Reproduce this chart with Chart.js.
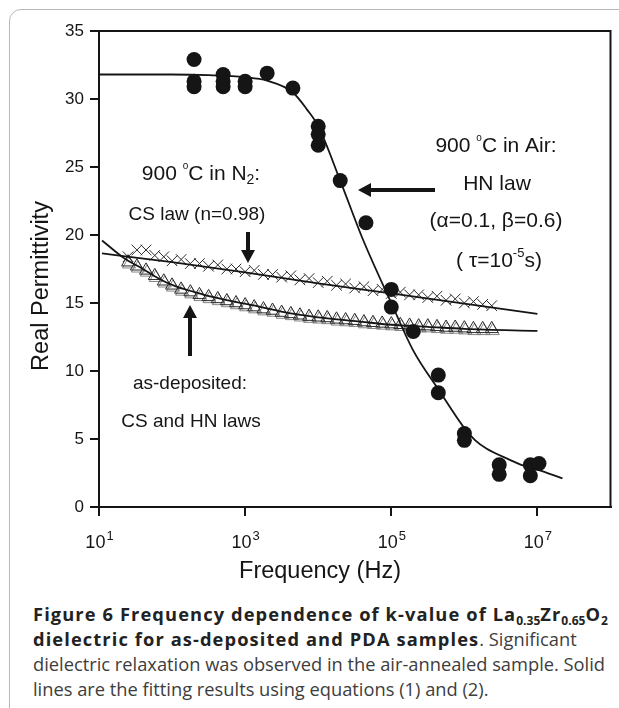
<!DOCTYPE html>
<html><head><meta charset="utf-8">
<script src="https://cdn.jsdelivr.net/npm/chart.js@4.4.1/dist/chart.umd.min.js"></script>
<style>
html,body{margin:0;padding:0;background:#fff;width:619px;height:708px;overflow:hidden;}
#card{position:absolute;left:9px;top:9px;width:700px;height:720px;border:1px solid #b8b8b8;border-radius:12px;}
#wrap{position:absolute;left:0;top:0;width:619px;height:600px;}
#cap{position:absolute;left:33px;top:601px;width:620px;font-family:'Open Sans';font-size:18.3px;line-height:25px;color:#3d3d3d;white-space:nowrap;}
#cap b{color:#222;font-weight:700;letter-spacing:1.1px;}
#cap sub{font-size:12px;vertical-align:baseline;position:relative;top:4px;line-height:0;letter-spacing:0;}
</style></head><body>
<div id="card"></div>
<div id="wrap"><canvas id="c" width="619" height="600"></canvas></div>
<div id="cap"><b>Figure 6 Frequency dependence of k-value of La<sub>0.35</sub>Zr<sub>0.65</sub>O<sub>2</sub><br>dielectric for as-deposited and PDA samples</b>. Significant<br>dielectric relaxation was observed in the air-annealed sample. Solid<br>lines are the fitting results using equations (1) and (2).</div>
<script>
// ---- data (frequency in Hz, real permittivity) ----
const xTickValues = [10, 1e3, 1e5, 1e7];
const xTickExponents = ['1', '3', '5', '7'];
const yTickStep = 5;

// 900 °C in Air (filled circles)
const airFreq = [200,200,200,500,500,500,1000,1000,2000,4500,1e4,1e4,1e4,2e4,4.5e4,1e5,1e5,2e5,4.4e5,4.4e5,1e6,1e6,3e6,3e6,8e6,8e6,1.05e7];
const airEps  = [32.9,31.3,30.9,31.8,31.3,30.9,31.3,30.9,31.9,30.8,28.0,27.4,26.6,24.0,20.9,16.0,14.7,12.9,9.7,8.4,5.4,4.9,3.1,2.4,3.1,2.3,3.2];

// HN law fit (air)
const hnFreq = [10,100,316,1000,2000,4470,7080,1e4,2e4,4e4,1e5,2e5,4.47e5,1e6,1.41e6,2e6,4.27e6,6e6,1e7,2.2e7];
const hnEps  = [31.8,31.8,31.75,31.6,31.35,30.5,29.2,28.0,24.0,19.8,15.0,11.5,8.6,5.8,4.9,4.3,3.45,3.1,2.75,2.1];

// frequency sweep shared by N2 and as-deposited samples
const sweepFreq = [25,33,44,58,77,100,133,178,237,316,422,562,750,1000,1330,1780,2370,3160,4220,5620,7500,1e4,1.33e4,1.78e4,2.37e4,3.16e4,4.22e4,5.62e4,7.5e4,1e5,1.33e5,1.78e5,2.37e5,3.16e5,4.22e5,5.62e5,7.5e5,1e6,1.33e6,1.78e6,2.37e6];
// 900 °C in N2 (crosses)
const n2Eps = [18.4,18.9,18.9,18.5,18.4,18.1,18.2,17.9,17.9,17.7,17.8,17.5,17.5,17.3,17.4,17.1,17.1,16.9,17.0,16.7,16.8,16.5,16.6,16.3,16.4,16.1,16.2,15.9,16.0,15.7,15.8,15.6,15.6,15.4,15.5,15.2,15.3,15.0,15.1,14.9,14.8];
// as-deposited (triangles)
const asdEps = [18.0,17.7,17.4,17.0,16.6,16.3,16.0,15.8,15.6,15.45,15.3,15.15,15.0,14.85,14.7,14.55,14.45,14.3,14.2,14.1,14.0,13.95,13.9,13.8,13.75,13.7,13.6,13.55,13.5,13.45,13.4,13.35,13.3,13.3,13.25,13.2,13.2,13.15,13.1,13.1,13.1];

// CS law fit (N2)
const csFreq = [11,100,1000,1e4,1e5,1e6,1e7];
const csEps  = [18.65,18.0,17.25,16.45,15.7,14.95,14.2];
// CS + HN fit (as-deposited)
const asFitFreq = [11,22,40,68,115,190,355,794,1510,3980,1e4,3.47e4,1e5,3.16e5,1e6,1e7];
const asFitEps  = [19.6,18.3,17.5,16.75,16.2,15.85,15.45,15.05,14.75,14.25,13.95,13.65,13.4,13.25,13.1,12.95];

const pts = (xs, ys) => xs.map((x, i) => ({x, y: ys[i]}));
const FONT = '"Liberation Sans", Arial, sans-serif';
const INK = '#151515';

const lineDs = (xs, ys) => ({data: pts(xs, ys), showLine: true, pointRadius: 0, borderColor: INK, borderWidth: 1.8, cubicInterpolationMode: 'monotone', fill: false});

function drawRuns(ctx, parts, cx, baseline) {
  let total = 0;
  const m = parts.map(p => { ctx.font = `${p[1]}px ${FONT}`; const w = ctx.measureText(p[0]).width; total += w; return w; });
  let x = cx - total / 2;
  ctx.textAlign = 'left'; ctx.textBaseline = 'alphabetic';
  parts.forEach((p, i) => { ctx.font = `${p[1]}px ${FONT}`; ctx.fillText(p[0], x, baseline + (p[2] || 0)); x += m[i]; });
}
function arrow(ctx, x1, y1, x2, y2) { // tail -> tip
  const ang = Math.atan2(y2 - y1, x2 - x1), hl = 13, hw = 7;
  const bx = x2 - hl * Math.cos(ang), by = y2 - hl * Math.sin(ang);
  ctx.strokeStyle = INK; ctx.lineWidth = 4; ctx.beginPath(); ctx.moveTo(x1, y1); ctx.lineTo(bx, by); ctx.stroke();
  ctx.fillStyle = INK; ctx.beginPath(); ctx.moveTo(x2, y2);
  ctx.lineTo(bx + hw * Math.sin(ang), by - hw * Math.cos(ang));
  ctx.lineTo(bx - hw * Math.sin(ang), by + hw * Math.cos(ang));
  ctx.closePath(); ctx.fill();
}

const TRI_INDEX = 5;
const shadow = {
  id: 'shadow',
  beforeDatasetDraw(chart, args) {
    if (args.index === TRI_INDEX) {
      const c = chart.ctx; c.save();
      c.shadowColor = 'rgba(120,120,120,0.9)'; c.shadowOffsetX = 1; c.shadowOffsetY = 2; c.shadowBlur = 0;
    }
  },
  afterDatasetDraw(chart, args) { if (args.index === TRI_INDEX) chart.ctx.restore(); }
};

const decor = {
  id: 'decor',
  afterDraw(chart) {
    const ctx = chart.ctx, a = chart.chartArea, xs = chart.scales.x;
    ctx.save();
    ctx.strokeStyle = INK; ctx.lineWidth = 2;
    ctx.beginPath(); ctx.moveTo(a.left, a.top); ctx.lineTo(a.right, a.top); ctx.lineTo(a.right, a.bottom); ctx.stroke();
    ctx.fillStyle = INK;
    xTickValues.forEach((v, i) => {
      const px = xs.getPixelForValue(v);
      ctx.font = `18px ${FONT}`; const w1 = ctx.measureText('10').width;
      ctx.font = `13px ${FONT}`; const w2 = ctx.measureText(xTickExponents[i]).width;
      let x0 = px - (w1 + w2) / 2;
      ctx.textAlign = 'left'; ctx.textBaseline = 'alphabetic';
      ctx.font = `18px ${FONT}`; ctx.fillText('10', x0, 548);
      ctx.font = `13px ${FONT}`; ctx.fillText(xTickExponents[i], x0 + w1 + 1, 540);
    });
    ctx.font = `23.5px ${FONT}`; ctx.textAlign = 'center'; ctx.textBaseline = 'middle';
    ctx.fillText('Frequency (Hz)', 320, 572);
    ctx.save(); ctx.translate(42, 286); ctx.rotate(-Math.PI / 2); ctx.fillText('Real Permittivity', 0, 0); ctx.restore();
    drawRuns(ctx, [['900 ', 21], ['o', 10, -11], ['C in N', 21], ['2', 14, 4], [':', 21]], 201, 180);
    drawRuns(ctx, [['CS law (n=0.98)', 19]], 197, 220);
    drawRuns(ctx, [['as-deposited:', 19]], 190, 389);
    drawRuns(ctx, [['CS and HN laws', 19]], 191, 427);
    drawRuns(ctx, [['900 ', 21], ['o', 10, -11], ['C in Air:', 21]], 496, 152);
    drawRuns(ctx, [['HN law', 21]], 497, 190);
    drawRuns(ctx, [['(\u03B1=0.1, \u03B2=0.6)', 21]], 496, 227);
    drawRuns(ctx, [['( \u03C4=10', 21], ['-5', 13, -10], ['s)', 21]], 499, 267);
    arrow(ctx, 435, 190, 358, 190);
    arrow(ctx, 248, 232, 248, 263);
    arrow(ctx, 190, 356, 190, 305);
    ctx.restore();
  }
};

new Chart(document.getElementById('c'), {
  type: 'scatter',
  data: {
    datasets: [
      lineDs(hnFreq, hnEps),
      lineDs(csFreq, csEps),
      lineDs(asFitFreq, asFitEps),
      {data: pts(airFreq, airEps), pointStyle: 'circle', pointRadius: 7.5, backgroundColor: INK, borderWidth: 0},
      {data: pts(sweepFreq, n2Eps), pointStyle: 'crossRot', pointRadius: 7.5, borderColor: '#2a2a2a', borderWidth: 1},
      {data: pts(sweepFreq, asdEps), pointStyle: 'triangle', pointRadius: 7.5, borderColor: '#2a2a2a', backgroundColor: 'rgba(0,0,0,0)', borderWidth: 1}
    ]
  },
  options: {
    responsive: false, animation: false,
    layout: {padding: {left: 0, right: 6, top: 31, bottom: 0}},
    plugins: {legend: {display: false}, tooltip: {enabled: false}},
    scales: {
      x: {
        type: 'logarithmic', min: 10, max: 1e8,
        afterBuildTicks: s => { s.ticks = xTickValues.map(v => ({value: v})); },
        ticks: {callback: () => '', autoSkip: false, maxRotation: 0},
        grid: {drawOnChartArea: false, tickLength: 9, color: INK, lineWidth: 2},
        border: {display: true, color: INK, width: 2},
        afterFit: s => { s.height = 93; }
      },
      y: {
        min: 0, max: 35,
        ticks: {stepSize: yTickStep, font: {size: 17, family: FONT}, color: INK, padding: 6},
        grid: {drawOnChartArea: false, tickLength: 9, color: INK, lineWidth: 2},
        border: {display: true, color: INK, width: 2},
        afterFit: s => { s.width = 99; }
      }
    }
  },
  plugins: [shadow, decor]
});
</script>
</body></html>
